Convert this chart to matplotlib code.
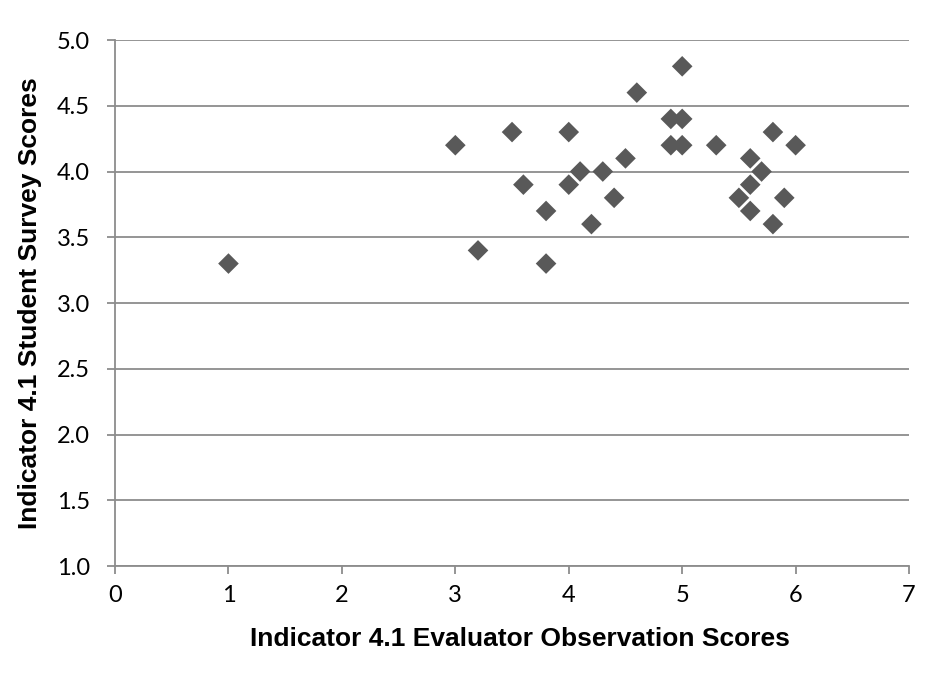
import matplotlib
matplotlib.use("Agg")
import matplotlib.pyplot as plt

# evaluator observation scores vs student survey scores, indicator 4.1
observer = [1.0, 3.0, 3.2, 3.5, 3.6, 3.8, 3.8, 4.0, 4.0, 4.1, 4.2, 4.3, 4.4, 4.5, 4.6,
            4.9, 4.9, 5.0, 5.0, 5.0, 5.3, 5.5, 5.6, 5.6, 5.6, 5.7, 5.8, 5.8, 5.9, 6.0]
survey = [3.3, 4.2, 3.4, 4.3, 3.9, 3.7, 3.3, 4.3, 3.9, 4.0, 3.6, 4.0, 3.8, 4.1, 4.6,
          4.4, 4.2, 4.8, 4.4, 4.2, 4.2, 3.8, 4.1, 3.9, 3.7, 4.0, 4.3, 3.6, 3.8, 4.2]

x_ticks = [0, 1, 2, 3, 4, 5, 6, 7]
y_ticks = [1.0, 1.5, 2.0, 2.5, 3.0, 3.5, 4.0, 4.5, 5.0]

GRID = "#8c8c8c"

fig = plt.figure(figsize=(9.36, 6.76), dpi=100)
ax = fig.add_axes([0.1229, 0.1627, 0.8483, 0.7781])

ax.scatter(observer, survey, marker="D", s=10.5**2, color="#595959",
           edgecolors="none", zorder=3)

ax.set_xlim(0, 7)
ax.set_ylim(1.0, 5.0)
ax.set_xticks(x_ticks)
ax.set_yticks(y_ticks)
ax.set_yticklabels([f"{v:.1f}" for v in y_ticks])
ax.yaxis.grid(True, color=GRID, lw=1.3)
ax.set_axisbelow(True)

for side in ("top", "right"):
    ax.spines[side].set_visible(False)
for side in ("left", "bottom"):
    ax.spines[side].set_color(GRID)
    ax.spines[side].set_linewidth(1.3)

ax.tick_params(axis="both", direction="out", length=6, width=1.3, color=GRID,
               labelsize=17)
ax.tick_params(axis="y", pad=12)
ax.tick_params(axis="x", pad=8)
for lbl in ax.get_xticklabels() + ax.get_yticklabels():
    lbl.set_fontfamily("Lato")

ax.set_xlabel("Indicator 4.1 Evaluator Observation Scores", fontsize=19,
              fontweight="bold", family="Liberation Sans")
ax.set_ylabel("Indicator 4.1 Student Survey Scores", fontsize=19,
              fontweight="bold", family="Liberation Sans")
ax.xaxis.set_label_coords(0.51, -0.162)
ax.yaxis.set_label_coords(-0.107, 0.5)
ax.xaxis.label.set_va("bottom")
ax.yaxis.label.set_va("center")

fig.savefig("out.png", dpi=100)
